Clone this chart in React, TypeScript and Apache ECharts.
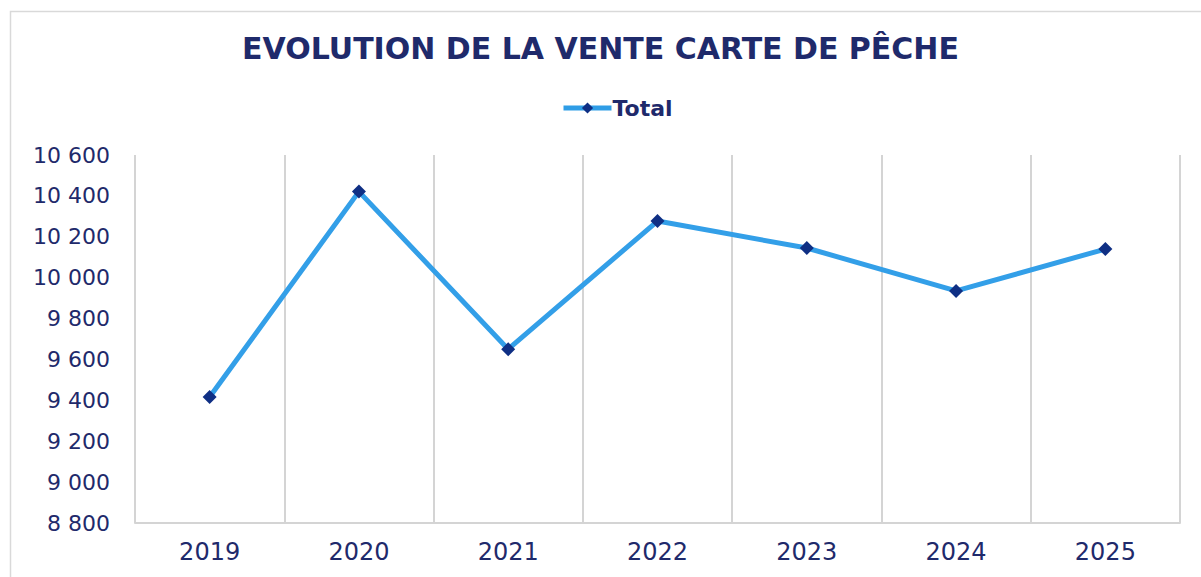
import React, { useEffect, useRef } from "react";
import * as echarts from "echarts";

const categories = ["2019", "2020", "2021", "2022", "2023", "2024", "2025"];
const totalValues = [9416, 10421, 9650, 10277, 10145, 9935, 10140];
const seriesName = "Total";
const titleText = "EVOLUTION DE LA VENTE CARTE DE PÊCHE";

const NAVY = "#1f2a6b";
const FONT = "'DejaVu Sans', sans-serif";

function fmt(v: number): string {
  const s = String(Math.round(v));
  return s.replace(/\B(?=(\d{3})+(?!\d))/g, " ");
}

export default function App() {
  const ref = useRef<HTMLDivElement>(null);
  useEffect(() => {
    if (!ref.current) return;
    const chart = echarts.init(ref.current, null, { renderer: "svg" });
    chart.setOption({
      animation: false,
      backgroundColor: "#ffffff",
      title: {
        text: titleText,
        left: "center",
        top: 28,
        textStyle: {
          color: NAVY,
          fontFamily: FONT,
          fontSize: 30,
          fontWeight: "bold",
        },
      },
      legend: {
        data: [seriesName],
        top: 92,
        left: 556,
        itemWidth: 48,
        itemHeight: 14,
        itemGap: 4,
        lineStyle: { width: 5, color: "#2f9de6" },
        textStyle: {
          color: NAVY,
          fontFamily: FONT,
          fontSize: 22,
          fontWeight: "bold",
          padding: [0, 0, 0, -4],
        },
      },
      graphic: [
        {
          type: "rect",
          left: 8,
          top: 9,
          shape: { width: 1300, height: 700 },
          style: { fill: "none", stroke: "#d9d9d9", lineWidth: 1.5 },
          silent: true,
        },
      ],
      grid: { left: 135, right: 21, top: 155, bottom: 54 },
      xAxis: {
        type: "category",
        data: categories,
        boundaryGap: true,
        axisLine: { show: true, lineStyle: { color: "#d4d4d4", width: 2 } },
        axisTick: { show: false },
        splitLine: { show: true, lineStyle: { color: "#d4d4d4", width: 2 } },
        axisLabel: {
          color: NAVY,
          fontFamily: FONT,
          fontSize: 24,
          margin: 17,
        },
      },
      yAxis: {
        type: "value",
        min: 8800,
        max: 10600,
        interval: 200,
        axisLine: { show: false },
        axisTick: { show: false },
        splitLine: { show: false },
        axisLabel: {
          color: NAVY,
          fontFamily: FONT,
          fontSize: 22,
          margin: 25,
          formatter: (v: number) => fmt(v),
        },
      },
      series: [
        {
          name: seriesName,
          type: "line",
          data: totalValues,
          symbol: "diamond",
          symbolSize: 14,
          lineStyle: { color: "#339fe8", width: 5 },
          itemStyle: { color: "#0f2f84" },
          emphasis: { disabled: true },
        },
      ],
    });
    return () => chart.dispose();
  }, []);
  return (
    <div
      ref={ref}
      style={{ position: "absolute", left: 0, top: 0, width: 1201, height: 577 }}
    />
  );
}
